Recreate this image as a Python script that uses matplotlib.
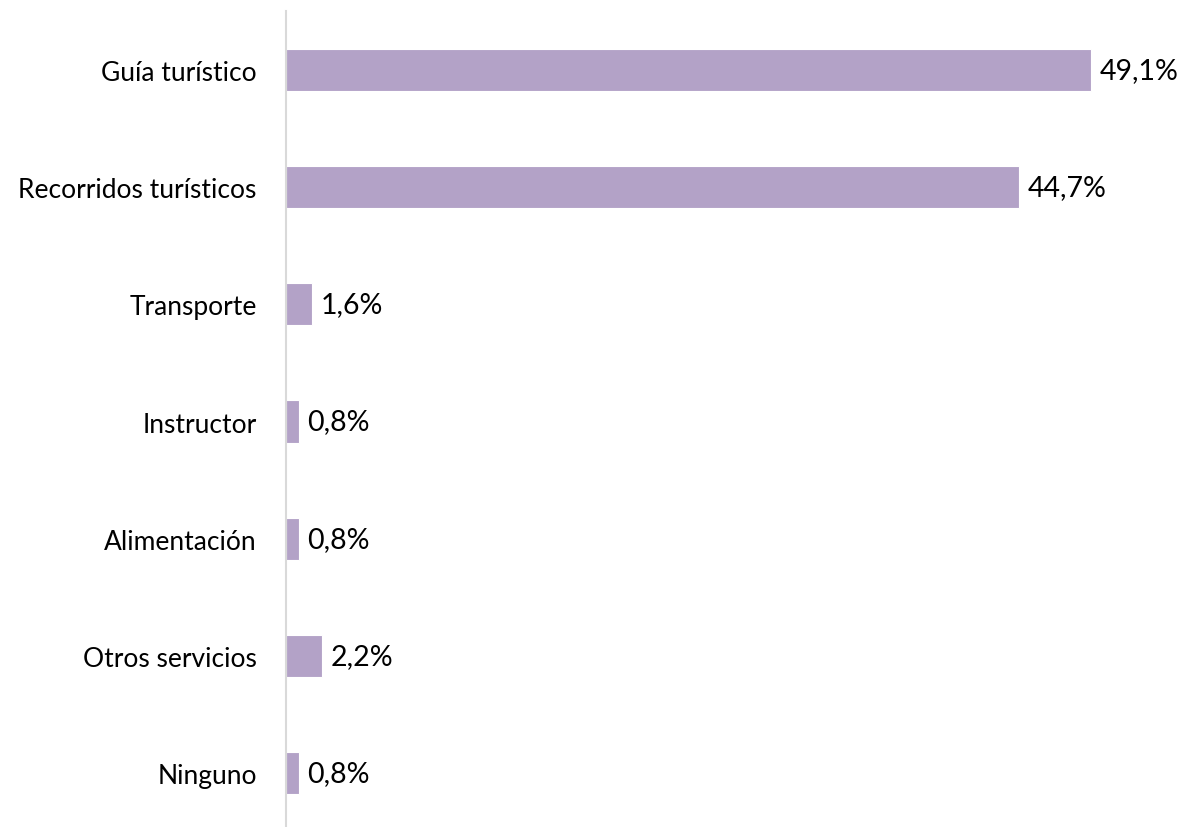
import matplotlib.pyplot as plt

# Servicios contratados (%)
categorias = ['Guía turístico', 'Recorridos turísticos', 'Transporte',
              'Instructor', 'Alimentación', 'Otros servicios', 'Ninguno']
valores = [49.1, 44.7, 1.6, 0.8, 0.8, 2.2, 0.8]
etiquetas = ['49,1%', '44,7%', '1,6%', '0,8%', '0,8%', '2,2%', '0,8%']

plt.rcParams['font.family'] = ['Lato', 'DejaVu Sans']

W, H = 1181, 828
fig = plt.figure(figsize=(W / 100, H / 100), dpi=100)
ax = fig.add_axes([286 / W, 0, 1 - 286 / W, 1 - 12 / H])

pos = list(range(len(categorias)))[::-1]
ax.barh(pos, valores, height=0.36, color='#B3A2C7', edgecolor='white', linewidth=0.8)

for y, v, t in zip(pos, valores, etiquetas):
    ax.annotate(t, (v, y), xytext=(6, 0), textcoords='offset points',
                va='center', ha='left', fontsize=20.5, color='black')

ax.set_yticks(pos)
ax.set_yticklabels(categorias, fontsize=19)
ax.tick_params(axis='y', length=0, pad=21)
ax.set_xticks([])
ax.set_xlim(0, (W - 286) / 16.4)
ax.set_ylim(-0.46, 6.503)
for s in ['top', 'right', 'bottom']:
    ax.spines[s].set_visible(False)
ax.spines['left'].set_color('#D9D9D9')
ax.spines['left'].set_linewidth(1.5)

fig.savefig('out.png', dpi=100)
